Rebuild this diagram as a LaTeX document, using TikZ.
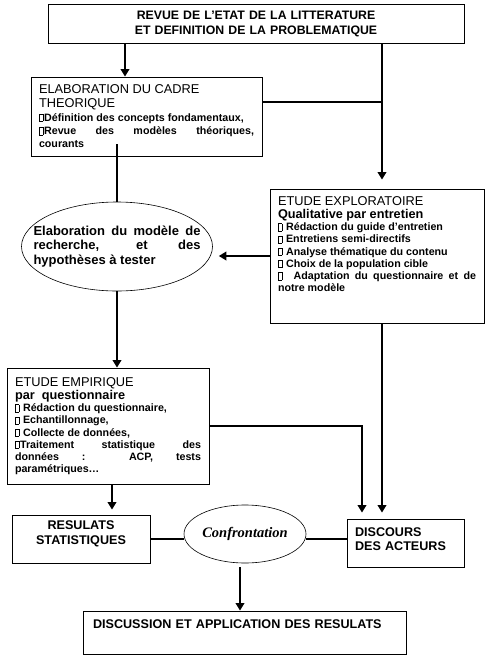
\documentclass[tikz,border=0pt]{standalone}
\usepackage{fontspec}
\setmainfont{Liberation Sans}
\newfontfamily\timesfont{Liberation Serif}
\usetikzlibrary{arrows.meta,shapes.geometric,calc,positioning}
\newcommand{\puce}{{\fboxsep=0pt\fboxrule=0.35pt\fbox{\rule{0pt}{7pt}\hspace{3.6pt}}\kern0.8pt}}
\newcommand{\titrefont}{\bfseries\fontsize{12.3}{15}\selectfont}
\newcommand{\entete}{\fontsize{12.8}{14}\selectfont}
\newcommand{\sousentete}{\bfseries\fontsize{12.7}{13.5}\selectfont}
\newcommand{\petit}{\bfseries\fontsize{10.7}{12.2}\selectfont}
\newcommand{\bas}[1]{\par\nointerlineskip\vbox to #1{}}

\begin{document}
\begin{tikzpicture}[x=1pt, y=1pt,
  bloc/.style={draw, line width=0.8pt, rectangle, inner xsep=8pt, inner ysep=0pt, align=justify},
  ovale/.style={draw, line width=0.6pt, ellipse, inner sep=0pt},
  fleche/.style={line width=2.8pt, -{Triangle[width=8.5pt,length=7.5pt]}},
  trait/.style={line width=2.8pt},
  gras/.style={font=\bfseries\fontsize{12.6}{14.5}\selectfont}]
  \useasboundingbox (0,0) rectangle (485,-656);

  % les blocs
  \node[bloc, align=center, minimum width=416, minimum height=39, text width=400, font=\titrefont] (revue) at (256,-23.5)
    {REVUE DE L'ETAT DE LA LITTERATURE\\ET DEFINITION DE LA PROBLEMATIQUE};
  \node[bloc, minimum width=231, minimum height=79, text width=215] (cadre) at (146.5,-116.5)
    {{\entete ELABORATION DU CADRE\\THEORIQUE\par}
     {\petit\baselineskip=13.3pt\puce Définition des concepts fondamentaux,\par
      \puce Revue des modèles théoriques,\linebreak courants\par}};
  \node[ovale, minimum width=191, minimum height=89] (modele) at (117,-246.5) {};
  \node[text width=167, align=justify, inner sep=0pt, font=\bfseries\fontsize{13}{14.5}\selectfont] (modeletexte) at (modele.center)
    {Elaboration du modèle de\linebreak recherche, et des\linebreak hypothèses à tester};
  \node[bloc, minimum width=214, minimum height=134, text width=198] (explo) at (377,-256)
    {{\entete ETUDE EXPLORATOIRE\par}
     {\sousentete Qualitative par entretien\par}
     {\petit\puce{} Rédaction du guide d'entretien\par
      \puce{} Entretiens semi-directifs\par
      \puce{} Analyse thématique du contenu\par
      \puce{} Choix de la population cible\par
      \puce{}~ Adaptation du questionnaire et de\linebreak notre modèle\par}
     \bas{24pt}};
  \node[bloc, minimum width=202, minimum height=116, text width=186] (empirique) at (108,-426)
    {{\entete ETUDE EMPIRIQUE\par}
     {\sousentete par~ questionnaire\par}
     {\petit\puce{} Rédaction du questionnaire,\par
      \puce{} Echantillonnage,\par
      \puce{} Collecte de données,\par
      \puce Traitement statistique des\linebreak données : ACP, tests\linebreak paramétriques…\par}};
  \node[bloc, gras, align=center, minimum width=138, minimum height=48, text width=122] (resultats) at (81,-539)
    {RESULATS\\STATISTIQUES\bas{10pt}};
  \node[ovale, minimum width=122, minimum height=58, font=\timesfont\bfseries\itshape\fontsize{14.5}{16}\selectfont] (confront) at (245,-534)
    {Confrontation};
  \node[bloc, gras, align=left, minimum width=117, minimum height=48, text width=101] (acteurs) at (405.5,-543)
    {DISCOURS\\DES ACTEURS\bas{8pt}};
  \node[bloc, gras, align=left, inner xsep=10pt, minimum width=323, minimum height=43, text width=303] (discussion) at (244.5,-632.5)
    {DISCUSSION ET APPLICATION DES RESULATS\bas{17pt}};

  % les liaisons
  \coordinate (xg) at (125,0);
  \coordinate (xd) at (382,0);
  \coordinate (xm) at (362,0);
  \coordinate (xr) at (112,0);
  \coordinate (xc) at (240,0);
  \coordinate (yh) at (0,-102);
  \draw[fleche] (revue.south -| xg) -- (cadre.north -| xg);
  \draw[fleche, shorten >=9pt] (revue.south -| xd) -- (explo.north -| xd);
  \draw[trait] (cadre.east |- yh) -- (xd |- yh);
  \draw[trait] ($(cadre.south -| modele.north)+(0,12)$) -- (modele.north);
  \draw[fleche, shorten >=6pt] (explo.west) -- (explo.west -| modele.east);
  \draw[fleche] (modele.south) -- (modele.south |- empirique.north);
  \draw[fleche, shorten >=6pt] (empirique.east) -| (acteurs.north -| xm);
  \draw[fleche, shorten >=6pt] (explo.south -| xd) -- (acteurs.north -| xd);
  \draw[fleche, shorten >=5pt] (empirique.south -| xr) -- (resultats.north -| xr);
  \draw[trait] (resultats.east) -- (resultats.east -| confront.west);
  \draw[trait] (confront.east |- resultats.east) -- (acteurs.west |- resultats.east);
  \draw[fleche, shorten <=4pt] (confront.south -| xc) -- (discussion.north -| xc);
\end{tikzpicture}
\end{document}
